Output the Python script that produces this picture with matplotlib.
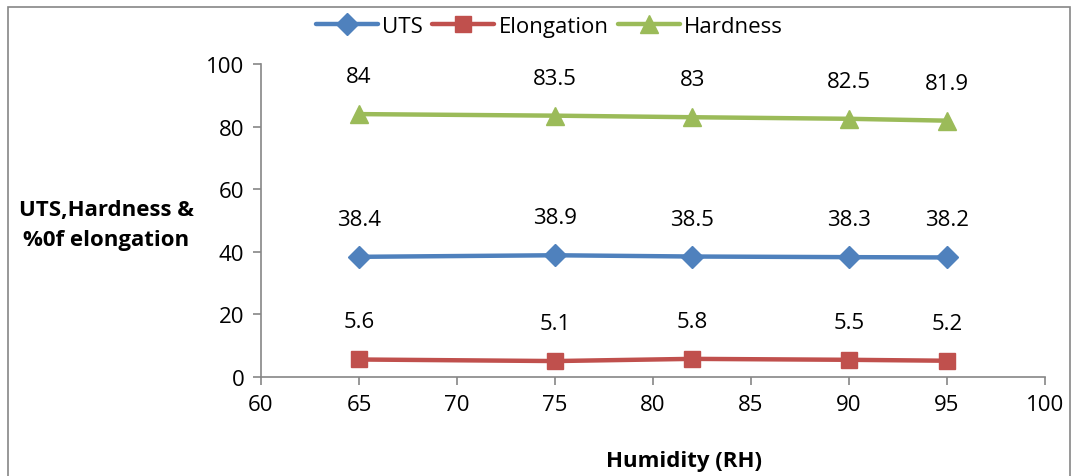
import matplotlib
matplotlib.use("Agg")
import matplotlib.pyplot as plt
from matplotlib.patches import Rectangle

humidity = [65, 75, 82, 90, 95]
uts = [38.4, 38.9, 38.5, 38.3, 38.2]
elongation = [5.6, 5.1, 5.8, 5.5, 5.2]
hardness = [84, 83.5, 83, 82.5, 81.9]
x_ticks = [60, 65, 70, 75, 80, 85, 90, 95, 100]
y_ticks = [0, 20, 40, 60, 80, 100]

plt.rcParams['font.family'] = ['Open Sans', 'DejaVu Sans']

fig = plt.figure(figsize=(10.73, 4.77), dpi=100)
ax = fig.add_axes([0.2432, 0.2075, 0.7307, 0.6562])

series = [
    ("UTS", uts, "#4F81BD", "D", 11),
    ("Elongation", elongation, "#C0504D", "s", 12),
    ("Hardness", hardness, "#9BBB59", "^", 13),
]
for name, vals, col, mk, ms in series:
    ax.plot(humidity, vals, color=col, lw=3.2, marker=mk, markersize=ms,
            label=name, solid_capstyle='round')
    for xv, yv in zip(humidity, vals):
        ax.annotate(f"{yv:g}", (xv, yv), xytext=(0, 27), textcoords="offset points",
                    ha="center", va="center", fontsize=16)

ax.set_xlim(60, 100)
ax.set_ylim(0, 100)
ax.set_xticks(x_ticks)
ax.set_yticks(y_ticks)
ax.tick_params(labelsize=16, color="#868686", length=6, width=1.2, pad=6)
for s in ["top", "right"]:
    ax.spines[s].set_visible(False)
for s in ["left", "bottom"]:
    ax.spines[s].set_color("#868686")
    ax.spines[s].set_linewidth(1.2)

fig.text(0.099, 0.528, "UTS,Hardness &\n%0f elongation", ha="center", va="center",
         fontsize=16, fontweight="bold", linespacing=1.55)
fig.text(0.637, 0.032, "Humidity (RH)", ha="center", va="center",
         fontsize=16, fontweight="bold")

leg = fig.legend(loc="center", bbox_to_anchor=(0.512, 0.943), ncol=3, frameon=False,
                 fontsize=16, handlelength=2.8, handletextpad=0.2, columnspacing=0.4)

fig.patches.append(Rectangle((0.0075, -0.01), 0.99, 0.993, transform=fig.transFigure,
                             fill=False, edgecolor="#868686", lw=1.2))

fig.savefig("out.png", dpi=100)
